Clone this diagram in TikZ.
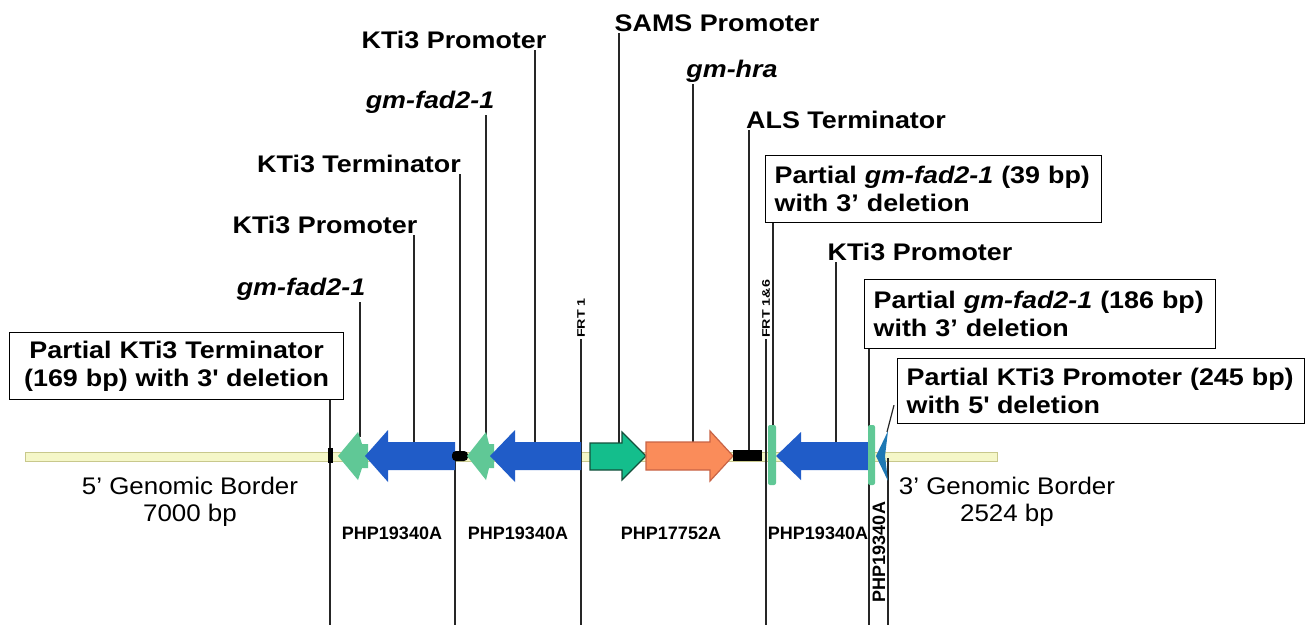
\documentclass[tikz,border=0pt]{standalone}
\usepackage{fontspec}
\usepackage{graphicx}
\setmainfont{Liberation Sans}
\newfontfamily\lb[FakeStretch=1.12]{Liberation Sans}
\newfontfamily\lr[FakeStretch=1.08]{Liberation Sans}
\definecolor{paleY}{RGB}{245,247,200}
\definecolor{paleYd}{RGB}{200,200,140}
\definecolor{lgreen}{RGB}{96,200,150}
\definecolor{dblue}{RGB}{32,92,200}
\definecolor{teal1}{RGB}{20,190,140}
\definecolor{teal1d}{RGB}{20,80,60}
\definecolor{orange1}{RGB}{250,140,90}
\definecolor{orange1d}{RGB}{200,100,70}
\definecolor{sblue}{RGB}{30,120,180}
\tikzset{
  lbl/.style={font=\lb\bfseries\fontsize{24}{28}\selectfont, inner sep=2pt},
  ilbl/.style={font=\lb\bfseries\itshape\fontsize{24}{28}\selectfont, inner sep=2pt},
  boxed/.style={draw, line width=1.3pt, font=\lb\bfseries\fontsize{24}{28.5}\selectfont, inner xsep=9pt, inner ysep=0pt, align=left, anchor=north west},
  php/.style={font=\bfseries\fontsize{18}{20}\selectfont, inner sep=0pt},
  frt/.style={font=\bfseries\fontsize{11}{13}\selectfont, inner sep=1pt, rotate=90, anchor=west},
  conn/.style={line width=1.2pt, draw=black!85},
  border/.style={font=\lr\fontsize{24}{27}\selectfont, align=center, inner sep=0pt},
  lgarrow/.style={fill=lgreen, draw=none},
  bluearrow/.style={fill=dblue, draw=none},
}
\begin{document}
\begin{tikzpicture}[x=1pt,y=-1pt]
\useasboundingbox (0,0) rectangle (1312,625);
\fill[white] (0,0) rectangle (1312,625);

% genomic bar (both borders and gaps)
\draw[fill=paleY, draw=paleYd, line width=1pt] (25,452) rectangle (997,461);

% ---------- labels ----------
\node[boxed, minimum width=334, minimum height=67, text width=316, align=center] (b0) at (9,332)
  {Partial KTi3 Terminator\\(169 bp) with 3\textquotesingle{} deletion};
\node[ilbl, anchor=base] (g1) at (301,295) {gm-fad2-1};
\node[lbl, anchor=base] (p1) at (325,233) {KTi3 Promoter};
\node[lbl, anchor=base] (t1) at (359,172) {KTi3 Terminator};
\node[ilbl, anchor=base] (g2) at (430,108) {gm-fad2-1};
\node[lbl, anchor=base] (p2) at (454,48) {KTi3 Promoter};
\node[lbl, anchor=base] (sams) at (717,31) {SAMS Promoter};
\node[ilbl, anchor=base] (hra) at (732,77) {gm-hra};
\node[lbl, anchor=base] (als) at (846,128) {ALS Terminator};
\node[boxed, minimum width=336, minimum height=67, text width=318] (b1) at (765,155)
  {Partial \textit{gm-fad2-1} (39 bp)\\with 3’ deletion};
\node[lbl, anchor=base] (p3) at (920,260) {KTi3 Promoter};
\node[boxed, minimum width=351, minimum height=69, text width=333] (b2) at (864,279)
  {Partial \textit{gm-fad2-1} (186 bp)\\with 3’ deletion};
\node[boxed, minimum width=407, minimum height=65, text width=389] (b3) at (897,358)
  {Partial KTi3 Promoter (245 bp)\\with 5\textquotesingle{} deletion};

\node[frt] (frt1) at (581,339) {\scalebox{1.3}[1]{FRT 1}};
\node[frt] (frt16) at (766,339) {\scalebox{1.3}[1]{FRT 1\&6}};

\node[border] (gb5) at (190,502) {5’ Genomic Border\\7000 bp};
\node[border] (gb3) at (1007,502) {3’ Genomic Border\\2524 bp};

\node[php, anchor=base] (php1) at (392,539) {PHP19340A};
\node[php, anchor=base] (php2) at (518,539) {PHP19340A};
\node[php, anchor=base] (php3) at (671,539) {PHP17752A};
\node[php, anchor=base] (php4) at (818,539) {PHP19340A};
\node[php, rotate=90] (php5) at (879,552) {PHP19340A};

% ---------- connector targets ----------
\coordinate (b0t) at (330,625);
\coordinate (g1t) at (360,437);
\coordinate (p1t) at (414,442);
\coordinate (t1t) at (460,452);
\coordinate (g2t) at (486,436);
\coordinate (p2t) at (535,442);
\coordinate (samst) at (619,443);
\coordinate (hrat) at (693,442);
\coordinate (alst) at (749,450);
\coordinate (b1t) at (773,425);
\coordinate (p3t) at (836,442);
\coordinate (b2t) at (869,625);
\coordinate (b3t) at (887,432);
\coordinate (frt1t) at (581,625);
\coordinate (frt16t) at (766,625);
\coordinate (s1a) at (455,458);
\coordinate (s1b) at (455,625);
\coordinate (s2a) at (888,458);
\coordinate (s2b) at (888,625);

% ---------- connectors ----------
\draw[conn] (b0t |- b0.south) -- (b0t);
\draw[conn] (g1t |- g1.south) -- (g1t);
\draw[conn] (p1t |- p1.south) -- (p1t);
\draw[conn] (t1t |- t1.south) -- (t1t);
\draw[conn] (g2t |- g2.south) -- (g2t);
\draw[conn] (p2t |- p2.south) -- (p2t);
\draw[conn] (samst |- sams.south) -- (samst);
\draw[conn] (hrat |- hra.south) -- (hrat);
\draw[conn] (alst |- als.south) -- (alst);
\draw[conn] (b1t |- b1.south) -- (b1t);
\draw[conn] (p3t |- p3.south) -- (p3t);
\draw[conn] (b2t |- b2.south) -- (b2t);
\draw[conn] ([xshift=-3pt,yshift=-14pt]b3.west) -- (b3t);
\draw[conn] (frt1.west) -- (frt1t);
\draw[conn] (frt16.west) -- (frt16t);
\draw[conn] (s1a) -- (s1b);
\draw[conn] (s2a) -- (s2b);

% ---------- map elements ----------
% left junction mark
\fill[black] (328,448) rectangle (333,463);
% gm-fad2-1 (1) and KTi3 promoter (1)
\fill[lgarrow] (338,456) -- (358,432) -- (362,444) -- (368,444) -- (368,468) -- (362,468) -- (358,480) -- cycle;
\fill[bluearrow] (365,456) -- (388,430) -- (388,442) -- (455,442) -- (455,470) -- (388,470) -- (388,482) -- cycle;
% KTi3 terminator (black)
\fill[black, rounded corners=4pt] (452,451) rectangle (468,461);
% gm-fad2-1 (2) and KTi3 promoter (2)
\fill[lgarrow] (467,456) -- (486,432) -- (489,444) -- (494,444) -- (494,468) -- (489,468) -- (486,480) -- cycle;
\fill[bluearrow] (490,456) -- (515,430) -- (515,442) -- (581,442) -- (581,470) -- (515,470) -- (515,482) -- cycle;
% SAMS promoter
\draw[fill=teal1, draw=teal1d, line width=1.2pt, line join=miter] (590,443) -- (622,443) -- (622,432) -- (646,456) -- (622,480) -- (622,470) -- (590,470) -- cycle;
% gm-hra
\draw[fill=orange1, draw=orange1d, line width=1.2pt] (646,442) -- (710,442) -- (710,431) -- (733,456) -- (710,481) -- (710,470) -- (646,470) -- cycle;
% ALS terminator
\fill[black] (733,450) rectangle (762,461);
% partial gm-fad2-1 (39 bp)
\fill[lgreen, rounded corners=2pt] (768,425) rectangle (776,485);
% KTi3 promoter (3)
\fill[bluearrow] (776,456) -- (801,432) -- (801,442) -- (869,442) -- (869,470) -- (801,470) -- (801,480) -- cycle;
% partial gm-fad2-1 (186 bp)
\fill[lgreen, rounded corners=2pt] (868,425) rectangle (875,485);
% partial KTi3 promoter (245 bp)
\fill[sblue] (876,456) -- (888,431) -- (885,456) -- (888,481) -- cycle;
\end{tikzpicture}
\end{document}
